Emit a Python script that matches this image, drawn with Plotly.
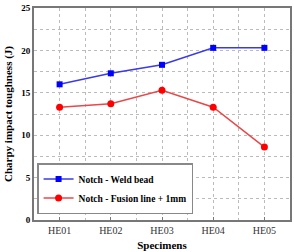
import plotly.graph_objects as go

categories = ["HE01", "HE02", "HE03", "HE04", "HE05"]
weld_bead = [16.0, 17.3, 18.3, 20.3, 20.3]
fusion_line = [13.3, 13.7, 15.3, 13.3, 8.6]
x_pos = [1, 2, 3, 4, 5]

serif = "Liberation Serif"

fig = go.Figure()
fig.add_trace(go.Scatter(
    x=x_pos, y=weld_bead, mode="lines+markers", name="<b>Notch - Weld bead</b>",
    line=dict(color="#3a3ae8", width=1.5),
    marker=dict(symbol="square", size=6, color="#0000ff"),
))
fig.add_trace(go.Scatter(
    x=x_pos, y=fusion_line, mode="lines+markers", name="<b>Notch - Fusion line + 1mm</b>",
    line=dict(color="#e84848", width=1.5),
    marker=dict(symbol="circle", size=7, color="#ff0000"),
))

fig.update_layout(
    width=294, height=252,
    margin=dict(l=34, r=2, t=8, b=29),
    paper_bgcolor="white", plot_bgcolor="white",
    font=dict(family=serif, color="black", size=10),
    showlegend=True,
    legend=dict(
        x=0.012, y=0.028, xanchor="left", yanchor="bottom",
        bgcolor="white", bordercolor="#888888", borderwidth=1.5,
        font=dict(family=serif, size=9.5, color="black"),
        tracegroupgap=0, itemwidth=30,
    ),
)

fig.update_xaxes(
    range=[0.5, 5.5],
    tickvals=x_pos, ticktext=categories,
    tickfont=dict(family=serif, size=10, color="#333333"),
    showline=True, linecolor="#777777", linewidth=2, mirror=True,
    showgrid=True, gridcolor="#bbbbbb", griddash="dot", gridwidth=1,
    ticks="inside", ticklen=3, tickcolor="#777777",
    minor=dict(dtick=1, tick0=0.5, showgrid=True, gridcolor="#bbbbbb", griddash="dot", ticks=""),
    title=dict(text="<b>Specimens</b>", font=dict(family=serif, size=11), standoff=6),
    zeroline=False,
)
fig.update_yaxes(
    range=[0, 25], dtick=5, tick0=0,
    tickfont=dict(family=serif, size=9, color="black", weight="bold"),
    showline=True, linecolor="#777777", linewidth=2, mirror=True,
    showgrid=True, gridcolor="#bbbbbb", griddash="dot", gridwidth=1,
    ticks="",
    minor=dict(dtick=2.5, showgrid=True, gridcolor="#bbbbbb", griddash="dot"),
    title=dict(text="<b>Charpy impact toughness (J)</b>", font=dict(family=serif, size=11), standoff=6),
    zeroline=False,
)

fig.write_html("out.html")
